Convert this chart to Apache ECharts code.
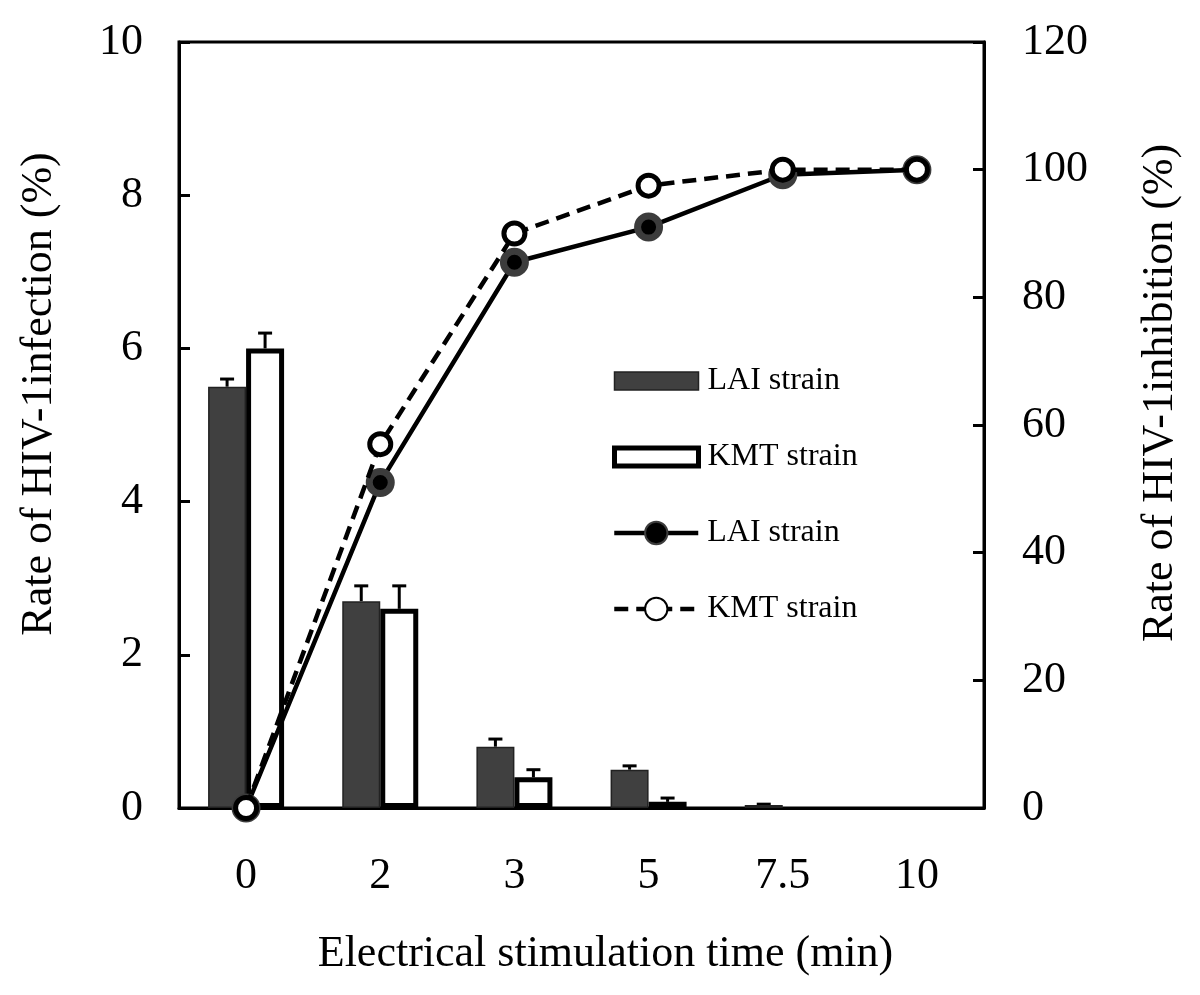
<!DOCTYPE html>
<html>
<head>
<meta charset="utf-8">
<script src="https://cdn.jsdelivr.net/npm/echarts@6/dist/echarts.min.js"></script>
<style>html,body{margin:0;padding:0;background:#fff;}#c{width:1200px;height:995px;}</style>
</head>
<body>
<div id="c"></div>
<script>
const categories = ['0', '2', '3', '5', '7.5', '10'];
const laiInfection = [5.5, 2.7, 0.8, 0.5, 0.04, 0];
const kmtInfection = [6.0, 2.6, 0.4, 0.08, 0, 0];
const laiInfectionErr = [0.1, 0.2, 0.1, 0.05, 0.01, 0];
const kmtInfectionErr = [0.2, 0.3, 0.1, 0.05, 0, 0];
const laiInhibition = [0, 51, 85.5, 91, 99.2, 100];
const kmtInhibition = [0, 57, 90, 97.5, 100, 100];
const leftTicks = [0, 2, 4, 6, 8, 10];
const rightTicks = [0, 20, 40, 60, 80, 100, 120];

const FONT = "'Liberation Serif', 'Times New Roman', serif";
const BAR_W = 38;

function barData(vals) {
  // zero-height bars are not drawn in the reference (no border line)
  return vals.map(v => v === 0 ? { value: 0, itemStyle: { color: 'transparent', borderWidth: 0 } } : v);
}

function errSeries(vals, errs, offset) {
  return {
    type: 'custom',
    yAxisIndex: 0,
    z: 1,
    silent: true,
    data: vals.map((v, i) => [i, v, v + errs[i]]),
    renderItem: function (params, api) {
      const idx = api.value(0);
      const base = api.coord([idx, api.value(1)]);
      const top = api.coord([idx, api.value(2)]);
      if (api.value(2) - api.value(1) <= 0.005) return null;
      const x = base[0] + offset;
      const st = { stroke: '#000', lineWidth: 3 };
      return {
        type: 'group',
        children: [
          { type: 'line', shape: { x1: x, y1: base[1], x2: x, y2: top[1] }, style: st },
          { type: 'line', shape: { x1: x - 7, y1: top[1], x2: x + 7, y2: top[1] }, style: st }
        ]
      };
    }
  };
}

const legendText = { fontFamily: FONT, fontSize: 32, color: '#000', padding: [0, 0, 0, 4] };

const chart = echarts.init(document.getElementById('c'));
chart.setOption({
  animation: false,
  backgroundColor: '#fff',
  textStyle: { fontFamily: FONT, color: '#000' },
  grid: {
    left: 179, right: 216, top: 42, bottom: 187,
    show: true, borderColor: '#000', borderWidth: 3, backgroundColor: 'transparent'
  },
  legend: [
    {
      orient: 'vertical',
      left: 607,
      top: 360,
      itemWidth: 84,
      itemHeight: 18,
      itemGap: 44,
      selectedMode: false,
      data: [
        { name: 'LAI strain', icon: 'rect', itemStyle: { borderWidth: 1.5, borderColor: '#222' } },
        { name: 'KMT strain', icon: 'rect', itemStyle: { borderWidth: 5, borderColor: '#000' } }
      ],
      textStyle: legendText
    },
    {
      orient: 'vertical',
      left: 607,
      top: 512,
      itemWidth: 84,
      itemHeight: 28,
      itemGap: 44,
      selectedMode: false,
      data: ['LAI strain ', 'KMT strain '],
      lineStyle: { width: 4.5 },
      textStyle: legendText
    }
  ],
  xAxis: {
    type: 'category',
    data: categories,
    name: 'Electrical stimulation time (min)',
    nameLocation: 'middle',
    nameGap: 124,
    nameTextStyle: { fontFamily: FONT, fontSize: 44, color: '#000', padding: [0, 0, 0, 48] },
    axisLine: { lineStyle: { color: '#000', width: 3 } },
    axisTick: { inside: true, length: 11, lineStyle: { color: '#000', width: 3 } },
    axisLabel: { fontFamily: FONT, fontSize: 44, color: '#000', margin: 46 },
    splitLine: { show: false }
  },
  yAxis: [
    {
      type: 'value', min: 0, max: 10, interval: 2,
      name: 'Rate of HIV-1infection (%)',
      nameLocation: 'middle',
      nameGap: 118,
      nameRotate: 90,
      nameTextStyle: { fontFamily: FONT, fontSize: 44, color: '#000', padding: [0, 0, 0, 62] },
      axisLine: { show: true, lineStyle: { color: '#000', width: 3 } },
      axisTick: { show: true, inside: true, length: 11, lineStyle: { color: '#000', width: 3 } },
      axisLabel: { fontFamily: FONT, fontSize: 44, color: '#000', margin: 36,
        formatter: v => leftTicks.includes(v) ? String(v) : '' },
      splitLine: { show: false }
    },
    {
      type: 'value', min: 0, max: 120, interval: 20,
      position: 'right',
      name: 'Rate of HIV-1inhibition (%)',
      nameLocation: 'middle',
      nameGap: 154,
      nameRotate: 90,
      nameTextStyle: { fontFamily: FONT, fontSize: 44, color: '#000', padding: [0, 0, 0, 64] },
      axisLine: { show: true, lineStyle: { color: '#000', width: 3 } },
      axisTick: { show: true, inside: true, length: 11, lineStyle: { color: '#000', width: 3 } },
      axisLabel: { fontFamily: FONT, fontSize: 44, color: '#000', margin: 38,
        formatter: v => rightTicks.includes(v) ? String(v) : '' },
      splitLine: { show: false }
    }
  ],
  series: [
    {
      name: 'LAI strain',
      type: 'bar',
      yAxisIndex: 0,
      data: barData(laiInfection),
      barWidth: BAR_W,
      barGap: '0%',
      z: 2,
      itemStyle: { color: '#404040', borderColor: '#222', borderWidth: 1.5 }
    },
    {
      name: 'KMT strain',
      type: 'bar',
      yAxisIndex: 0,
      data: barData(kmtInfection),
      barWidth: BAR_W,
      barGap: '0%',
      z: 2,
      itemStyle: { color: '#fff', borderColor: '#000', borderWidth: 5 }
    },
    errSeries(laiInfection, laiInfectionErr, -BAR_W / 2),
    errSeries(kmtInfection, kmtInfectionErr, BAR_W / 2),
    {
      name: 'LAI strain ',
      type: 'line',
      yAxisIndex: 1,
      data: laiInhibition,
      z: 4,
      symbol: 'circle',
      symbolSize: 22,
      showAllSymbol: true,
      lineStyle: { color: '#000', width: 4.5 },
      itemStyle: { color: '#000', borderColor: '#3c3c3c', borderWidth: 7 }
    },
    {
      name: 'KMT strain ',
      type: 'line',
      yAxisIndex: 1,
      data: kmtInhibition,
      z: 5,
      symbol: 'circle',
      symbolSize: 21,
      showAllSymbol: true,
      lineStyle: { color: '#000', width: 4.5, type: [14, 8] },
      itemStyle: { color: '#fff', borderColor: '#000', borderWidth: 5 }
    }
  ]
});
</script>
</body>
</html>
